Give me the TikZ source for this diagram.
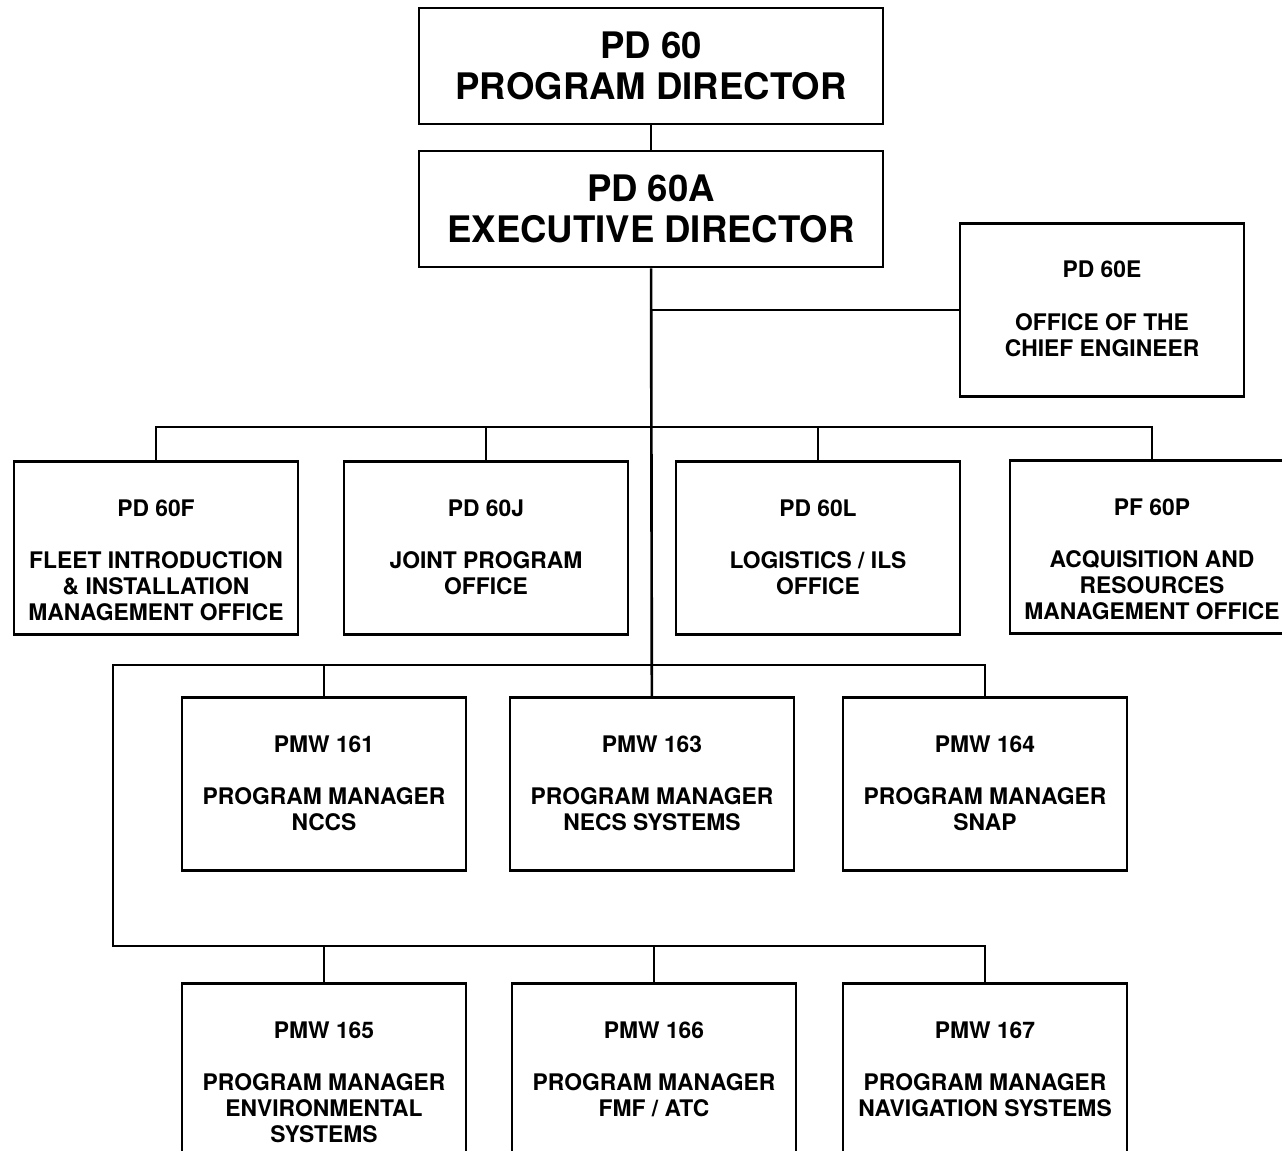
\documentclass[tikz,border=0pt]{standalone}
\usepackage{fontspec}
\setmainfont{TeX Gyre Heros}
\usepackage{tikz}

\newcommand{\officetext}[1]{\begin{tabular}[t]{@{}c@{}}#1\end{tabular}}

\begin{document}
\begin{tikzpicture}[x=0.02cm, y=-0.02cm,
  big/.style={draw, line width=1.5pt, align=center, minimum width=9.28cm, minimum height=2.32cm,
    font=\fontsize{20.8}{23.3}\selectfont\bfseries},
  office/.style={draw, line width=1.5pt, inner sep=0pt, minimum width=5.68cm,
    text height=1.09cm, text depth=2.37cm, font=\fontsize{13}{14.8}\selectfont\bfseries},
  wire/.style={line width=1.5pt}]
\useasboundingbox (0,0) rectangle (1282,1151);
\clip (0,0) rectangle (1282,1151);

\node[big] (pd60) at (651,66) {PD 60\\PROGRAM DIRECTOR};
\node[big] (pd60a) at (651,209) {PD 60A\\EXECUTIVE DIRECTOR};

\node[office] (pd60e) at (1102,310) {\officetext{PD 60E\\[14.8pt]OFFICE OF THE\\CHIEF ENGINEER}};

\node[office] (pd60f) at (156,548) {\officetext{PD 60F\\[14.8pt]FLEET INTRODUCTION\\\& INSTALLATION\\MANAGEMENT OFFICE}};
\node[office] (pd60j) at (486,548) {\officetext{PD 60J\\[14.8pt]JOINT PROGRAM\\OFFICE}};
\node[office] (pd60l) at (818,548) {\officetext{PD 60L\\[14.8pt]LOGISTICS / ILS\\OFFICE}};
\node[office] (pf60p) at (1152,547) {\officetext{PF 60P\\[14.8pt]ACQUISITION AND\\RESOURCES\\MANAGEMENT OFFICE}};

\node[office] (pmw161) at (324,784) {\officetext{PMW 161\\[14.8pt]PROGRAM MANAGER\\NCCS}};
\node[office] (pmw163) at (652,784) {\officetext{PMW 163\\[14.8pt]PROGRAM MANAGER\\NECS SYSTEMS}};
\node[office] (pmw164) at (985,784) {\officetext{PMW 164\\[14.8pt]PROGRAM MANAGER\\SNAP}};

\node[office] (pmw165) at (324,1070) {\officetext{PMW 165\\[14.8pt]PROGRAM MANAGER\\ENVIRONMENTAL\\SYSTEMS}};
\node[office] (pmw166) at (654,1070) {\officetext{PMW 166\\[14.8pt]PROGRAM MANAGER\\FMF / ATC}};
\node[office] (pmw167) at (985,1070) {\officetext{PMW 167\\[14.8pt]PROGRAM MANAGER\\NAVIGATION SYSTEMS}};

\coordinate (bus1) at (652,427);
\coordinate (rail2) at (113,665);
\coordinate (rail3) at (113,946);

\draw[wire] (pd60) -- (pd60a);
\draw[wire] (pd60a) -- (pmw163);
\draw[wire] (pd60e.west) -- (pd60e.west -| pd60a.south);

\draw[wire] (pd60f.north) |- (bus1) -| (pf60p.north);
\draw[wire] (pd60j) -- (pd60j |- bus1);
\draw[wire] (pd60l) -- (pd60l |- bus1);

\draw[wire] (pmw164.north) |- (rail2) -- (rail3) -| (pmw167.north);
\draw[wire] (pmw161) -- (pmw161 |- rail2);
\draw[wire] (pmw165) -- (pmw165 |- rail3);
\draw[wire] (pmw166) -- (pmw166 |- rail3);
\end{tikzpicture}
\end{document}
